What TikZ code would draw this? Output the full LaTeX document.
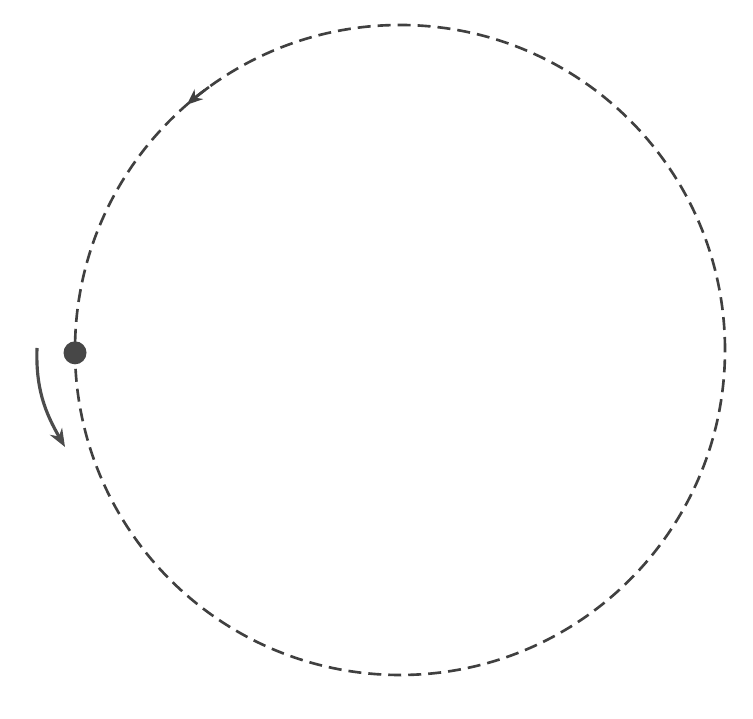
\documentclass[tikz,border=0pt]{standalone}
\usepackage{tikz}
\usetikzlibrary{arrows.meta, calc}
\tikzset{
  orbit/.style = {draw=black!75, line width=1.5pt, dash pattern=on 0.26cm off 0.14cm},
  body/.style  = {circle, fill=black!72, minimum size=0.46cm, inner sep=0pt},
  dirtip/.style = {-{Stealth[length=3.2mm, width=2.6mm]}, draw=black!75, line width=1.5pt},
  spin/.style  = {-{Stealth[length=3.6mm, width=2.8mm]}, draw=black!70, line width=1.8pt},
}
\begin{document}
\begin{tikzpicture}
  \useasboundingbox (0,0) rectangle (15.06,14.38);
  \coordinate (c) at (8.0,7.38);
  \draw[orbit] (c) circle[radius=6.5];
  \draw[dirtip] ($(c)+(126:6.5)$) arc[start angle=126, end angle=131, radius=6.5];
  \node[body] (sat) at ($(c)+(180.5:6.5)$) {};
  \coordinate (s0) at (0.74,7.42);
  \coordinate (s1) at (1.30,5.44);
  \draw[spin] (s0) to[out=-92,in=120] (s1);
\end{tikzpicture}
\end{document}
